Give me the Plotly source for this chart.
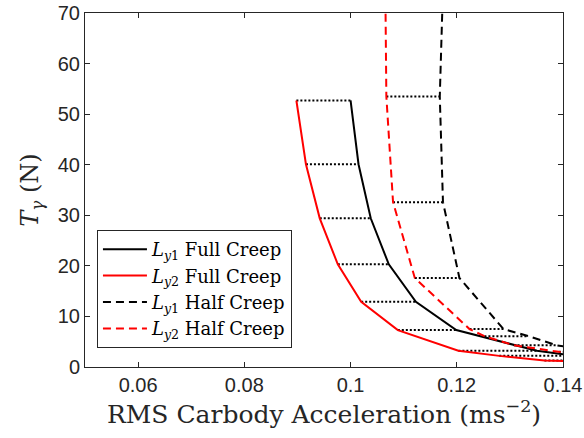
import plotly.graph_objects as go

# Full creep: tension levels and RMS accelerations for Ly1 / Ly2
full_T = [52.7, 40.1, 29.4, 20.3, 12.9, 7.3, 3.2, 2.2, 1.3, 1.0]
full_ly1 = [0.1000, 0.1015, 0.1038, 0.1072, 0.1123, 0.1199, 0.1351, 0.1425, 0.1520, 0.1560]
full_ly2 = [0.0898, 0.0916, 0.0942, 0.0976, 0.1020, 0.1089, 0.1203, 0.1280, 0.1365, 0.1450]

# Half creep
half_T = [75.0, 53.5, 32.6, 17.6, 7.5, 6.1, 4.3, 3.0, 2.6]
half_ly1 = [0.1174, 0.1168, 0.1174, 0.1205, 0.1288, 0.1335, 0.1388, 0.1460, 0.1500]
half_ly2 = [0.10655, 0.10674, 0.1080, 0.1121, 0.1224, 0.1252, 0.1307, 0.1392, 0.1470]

x_ticks = [0.06, 0.08, 0.10, 0.12, 0.14]
x_tick_labels = ["0.06", "0.08", "0.1", "0.12", "0.14"]
y_ticks = [0, 10, 20, 30, 40, 50, 60, 70]

AX = "#262626"
fig = go.Figure()

# dotted connectors
def connectors(T, a, b, n):
    xs, ys = [], []
    for i in range(n):
        xs += [a[i], b[i], None]
        ys += [T[i], T[i], None]
    return xs, ys

cx, cy = connectors(full_T, full_ly2, full_ly1, 9)
fig.add_trace(go.Scatter(x=cx, y=cy, mode="lines", showlegend=False,
                         line=dict(color="black", width=2, dash="2px,2px"), hoverinfo="skip"))
hx, hy = connectors(half_T, half_ly2, half_ly1, 8)
hx, hy = hx[3:], hy[3:]
fig.add_trace(go.Scatter(x=hx, y=hy, mode="lines", showlegend=False,
                         line=dict(color="black", width=2, dash="2px,2px"), hoverinfo="skip"))

fig.add_trace(go.Scatter(x=full_ly1, y=full_T, mode="lines", name="<i>L</i><sub><i>y</i>1</sub> Full Creep",
                         line=dict(color="black", width=2)))
fig.add_trace(go.Scatter(x=full_ly2, y=full_T, mode="lines", name="<i>L</i><sub><i>y</i>2</sub> Full Creep",
                         line=dict(color="#ff0000", width=2)))
fig.add_trace(go.Scatter(x=half_ly1, y=half_T, mode="lines", name="<i>L</i><sub><i>y</i>1</sub> Half Creep",
                         line=dict(color="black", width=2, dash="8px,5px")))
fig.add_trace(go.Scatter(x=half_ly2, y=half_T, mode="lines", name="<i>L</i><sub><i>y</i>2</sub> Half Creep",
                         line=dict(color="#ff0000", width=2, dash="8px,5px")))

fig.update_layout(
    width=584, height=438,
    margin=dict(l=85, r=21, t=13, b=71, autoexpand=False),
    paper_bgcolor="white", plot_bgcolor="white",
    showlegend=True,
    legend=dict(x=0.025, y=0.387, xanchor="left", yanchor="top",
                bgcolor="white", bordercolor=AX, borderwidth=1,
                font=dict(family="DejaVu Serif", size=18, color="black"),
                tracegroupgap=0, itemwidth=44),
)
fig.update_xaxes(range=[0.05, 0.14], tickvals=x_ticks, ticktext=x_tick_labels, automargin=False,
                 showline=True, linecolor=AX, linewidth=1, mirror="allticks",
                 ticks="inside", ticklen=5, tickcolor=AX, showgrid=False, zeroline=False,
                 tickfont=dict(family="Liberation Sans", size=20, color=AX),
                 title=dict(text="RMS Carbody Acceleration (ms<sup>−2</sup>)",
                            font=dict(family="DejaVu Serif", size=25, color=AX), standoff=4))
fig.update_yaxes(range=[0, 70], tickvals=y_ticks, automargin=False,
                 showline=True, linecolor=AX, linewidth=1, mirror="allticks",
                 ticks="inside", ticklen=5, tickcolor=AX, showgrid=False, zeroline=False,
                 tickfont=dict(family="Liberation Sans", size=20, color=AX),
                 title=dict(text="<i>T</i><sub><i>γ</i></sub> (N)",
                            font=dict(family="DejaVu Serif", size=24, color=AX), standoff=12))

fig.write_html("out.html")
